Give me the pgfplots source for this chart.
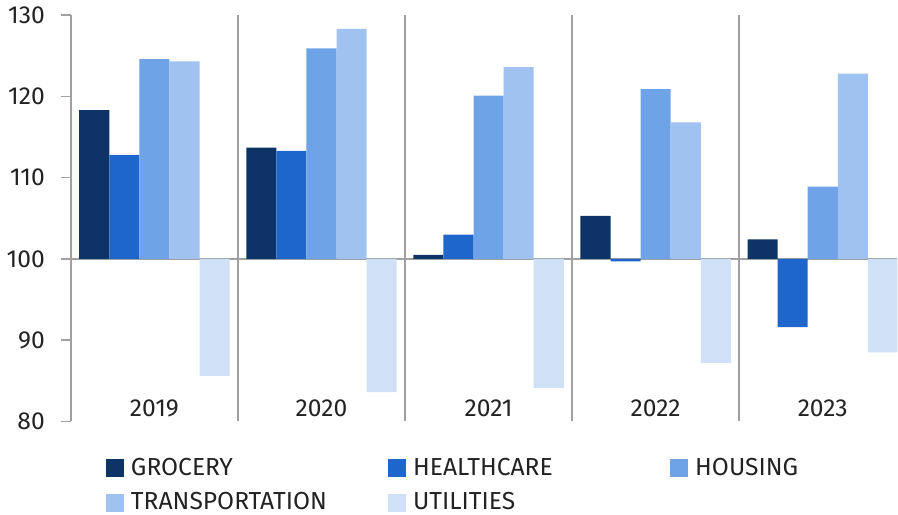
\documentclass[border=0pt]{standalone}
\usepackage{pgfplots}
\pgfplotsset{compat=1.18}
\usepackage{fontspec}
\setmainfont{Fira Sans}
\definecolor{cGro}{HTML}{0E3366}
\definecolor{cHea}{HTML}{1F66CC}
\definecolor{cHou}{HTML}{6EA3E8}
\definecolor{cTra}{HTML}{A0C2F0}
\definecolor{cUti}{HTML}{CFE0F7}
\definecolor{axgray}{HTML}{A0A0A0}
\definecolor{txt}{HTML}{222222}
\pgfplotstableread{
x grocery healthcare housing transportation utilities
0 118.3 112.8 124.6 124.3 85.6
1 113.7 113.3 125.9 128.3 83.6
2 100.5 103.0 120.1 123.6 84.1
3 105.3 99.7 120.9 116.8 87.2
4 102.4 91.6 108.9 122.8 88.5
}\data
\begin{document}
\begin{tikzpicture}
\begin{axis}[
  scale only axis, width=413pt, height=203pt,
  xmin=-0.5, xmax=4.446, ymin=-20, ymax=30,
  clip=true,
  ybar=0pt, bar width=0.18,
  y filter/.expression={y-100},
  axis x line=bottom, axis y line=left, separate axis lines,
  x axis line style={draw=none},
  y axis line style={draw=axgray, line width=0.75pt, -},
  font=\fontsize{12.3}{14}\selectfont\color{txt},
  /pgf/number format/assume math mode=true,
  ytick={-20,-10,0,10,20,30},
  yticklabels={80,90,100,110,120,130},
  yticklabel style={xshift=-4.5pt},
  tick align=outside, major tick length=5pt,
  ytick style={draw=axgray, line width=0.75pt},
  xtick={0,1,2,3,4},
  xticklabels={2019,2020,2021,2022,2023},
  x tick style={draw=none},
  xticklabel style={anchor=base, yshift=7.5pt},
  extra x ticks={0.5,1.5,2.5,3.5},
  extra x tick labels={},
  extra x tick style={grid=major, major grid style={draw=axgray, line width=0.75pt}, tick style={draw=none}},
  extra y ticks={0},
  extra y tick labels={},
  extra y tick style={grid=major, major grid style={draw=axgray, line width=0.75pt}},
  legend columns=3,
  legend image code/.code={\fill[#1] (0pt,-4.5pt) rectangle (9pt,4.5pt);},
  legend style={draw=none, fill=none, inner sep=0pt, at={(axis description cs:0.042,-0.085)}, anchor=north west,
    nodes={inner xsep=1.5pt, inner ysep=1pt}, row sep=5pt, column sep=0pt},
  legend cell align=left,
]
\addplot[fill=cGro, draw=none] table[x=x, y=grocery] {\data};
\addlegendentry{\hspace{2pt}\makebox[127pt][l]{GROCERY}}
\addplot[fill=cHea, draw=none] table[x=x, y=healthcare] {\data};
\addlegendentry{\hspace{2pt}\makebox[127pt][l]{HEALTHCARE}}
\addplot[fill=cHou, draw=none] table[x=x, y=housing] {\data};
\addlegendentry{\hspace{2pt}\makebox[70pt][l]{HOUSING}}
\addplot[fill=cTra, draw=none] table[x=x, y=transportation] {\data};
\addlegendentry{\hspace{2pt}\makebox[127pt][l]{TRANSPORTATION}}
\addplot[fill=cUti, draw=none] table[x=x, y=utilities] {\data};
\addlegendentry{\hspace{2pt}\makebox[127pt][l]{UTILITIES}}
\end{axis}
\end{tikzpicture}
\end{document}
